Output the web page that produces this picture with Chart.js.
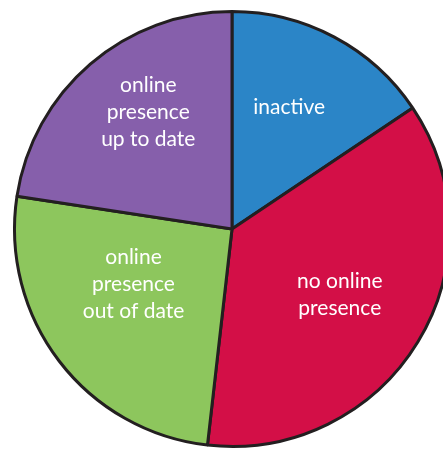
<!DOCTYPE html>
<html>
<head>
<meta charset="utf-8">
<script src="https://cdn.jsdelivr.net/npm/chart.js@4/dist/chart.umd.min.js"></script>
<style>
  html, body { margin: 0; padding: 0; background: #fff; overflow: hidden; }
  #wrap { position: absolute; left: 0; top: 0; width: 464px; height: 458px; }
</style>
</head>
<body>
<div id="wrap"><canvas id="pieChart"></canvas></div>
<script>
// slice labels (multi-line) and shares
var labels = [
    ["inactive"],
    ["no online", "presence"],
    ["online", "presence", "out of date"],
    ["online", "presence", "up to date"]
];
var values = [15.6, 36.2, 25.6, 22.6];
var sliceColors = ["#2b85c7", "#d30f47", "#8dc65d", "#865fab"];
// where each label sits: fraction of radius, and turn (deg) off the slice middle
var labelRadius = [0.62, 0.58, 0.52, 0.66];
var labelTurn = [-3, 0, 8, 5];

const sliceLabels = {
    id: 'sliceLabels',
    afterDatasetsDraw(chart) {
        const ctx = chart.ctx
        const meta = chart.getDatasetMeta(0)
        ctx.save()
        ctx.fillStyle = '#ffffff'
        ctx.font = '21px Lato'
        ctx.textAlign = 'center'
        ctx.textBaseline = 'middle'
        meta.data.forEach((arc, i) => {
            const p = arc.getProps(['x', 'y', 'startAngle', 'endAngle', 'outerRadius'], true)
            const mid = (p.startAngle + p.endAngle) / 2 + labelTurn[i] * Math.PI / 180
            const r = p.outerRadius * labelRadius[i]
            const cx = p.x + Math.cos(mid) * r
            const cy = p.y + Math.sin(mid) * r
            const lines = labels[i]
            const lh = 27
            lines.forEach((t, j) => {
                ctx.fillText(t, cx, cy + (j - (lines.length - 1) / 2) * lh)
            })
        })
        ctx.restore()
    }
}

new Chart("pieChart", {
    type: "pie",
    data: {
        labels: labels.map(l => l.join(" ")),
        datasets: [{
            data: values,
            backgroundColor: sliceColors,
            borderColor: "#231f20",
            borderWidth: 3
        }]
    },
    options: {
        responsive: true,
        maintainAspectRatio: false,
        animation: false,
        layout: { padding: 10 },
        plugins: {
            legend: { display: false },
            tooltip: { enabled: false }
        }
    },
    plugins: [sliceLabels]
});
</script>
</body>
</html>
